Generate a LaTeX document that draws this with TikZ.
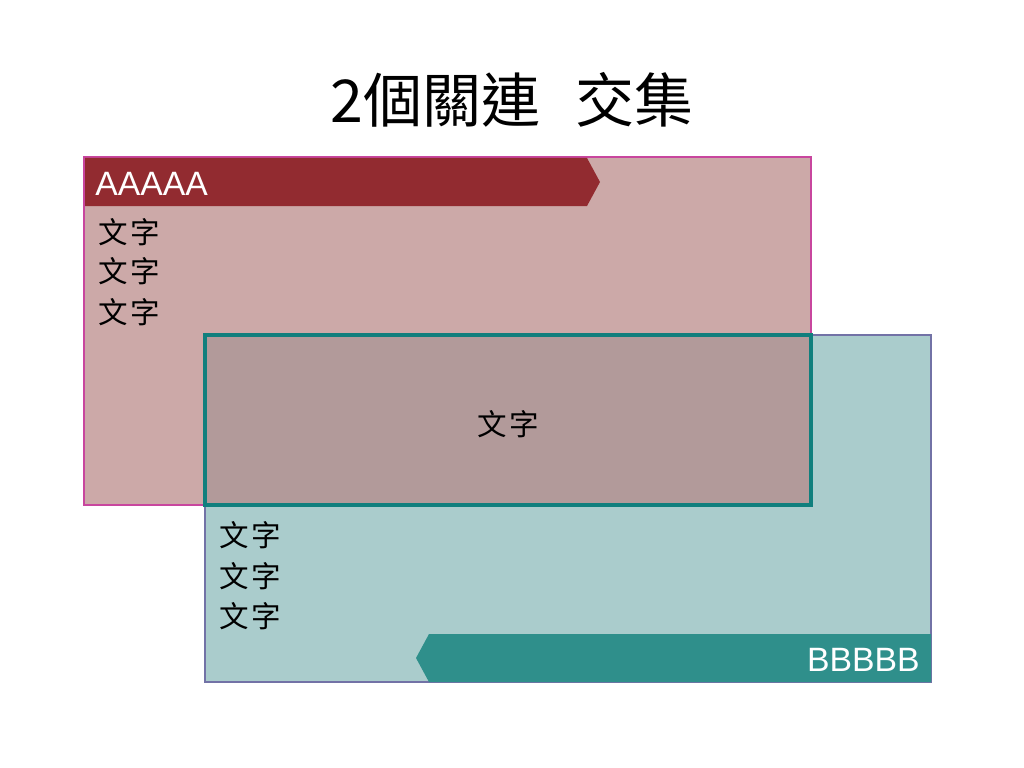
\documentclass[tikz,border=0pt]{standalone}
\usepackage{fontspec}
\setmainfont{Liberation Sans}
\newfontfamily\cjk{Noto Sans CJK TC}
\usepackage{xcolor}
\usetikzlibrary{positioning}

\definecolor{afill}{HTML}{CCA9A8}
\definecolor{aline}{HTML}{C8469E}
\definecolor{bfill}{HTML}{AACCCC}
\definecolor{bline}{HTML}{7272A6}
\definecolor{mixfill}{HTML}{B29A9A}
\definecolor{mixline}{HTML}{107F7D}
\definecolor{abanner}{HTML}{922B30}
\definecolor{bbanner}{HTML}{2F8F8B}

\begin{document}
\begin{tikzpicture}[
    x=0.025cm, y=-0.025cm,
    title/.style={font=\cjk\fontsize{42}{46}\selectfont, inner sep=0pt},
    tag/.style={text=white, font=\fontsize{24}{27}\selectfont, inner sep=0pt},
    word/.style={font=\cjk\fontsize{21}{25}\selectfont, inner sep=0pt}
]
    \useasboundingbox (0,0) rectangle (1024,768);

    % Sets
    \fill [afill] (84,157) rectangle (811,505);
    \fill [bfill] (205,335) rectangle (931,682);
    \draw [aline, line width=0.8pt] (84,157) rectangle (811,505);
    \draw [bline, line width=0.8pt] (205,335) rectangle (931,682);
    \fill [mixfill] (205,335) rectangle (811,505);
    \draw [mixline, line width=2.6pt] (205,335) rectangle (811,505);

    % Banners
    \fill [abanner] (85,158) -- (587,158) -- (600,182) -- (587,206) -- (85,206) -- cycle;
    \fill [bbanner] (931,634) -- (429,634) -- (416,658) -- (429,682) -- (931,682) -- cycle;

    % Title
    \node [title] (head) at (512,100) {2個關連\hspace{0.6em}交集};

    % Labels
    \node [tag, anchor=base west] (seta) at (95,195) {AAAAA};
    \node [tag, anchor=base east] (setb) at (920,671) {BBBBB};

    % Texts
    \foreach \y [count=\i] in {232,271,312}
        \node [word, anchor=west] (ta\i) at (98,\y) {文\hspace{0.1em}字};
    \foreach \y [count=\i] in {535,576,616}
        \node [word, anchor=west] (tb\i) at (219,\y) {文\hspace{0.1em}字};
    \node [word] (mid) at (508,424) {文\hspace{0.1em}字};

\end{tikzpicture}
\end{document}
